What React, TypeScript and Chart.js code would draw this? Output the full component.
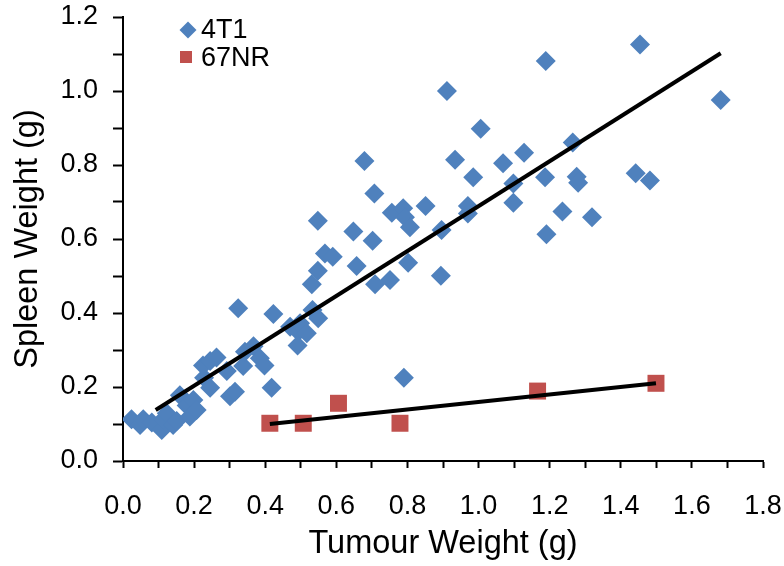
import React, { useEffect, useRef } from "react";
import { Chart, registerables } from "chart.js";

Chart.register(...registerables);

const FONT = "'Liberation Sans', Arial, sans-serif";

const xTicksMin = 0;
const xTicksMax = 1.8;
const yTicksMin = 0;
const yTicksMax = 1.2;

// 4T1 tumour weight (g) and spleen weight (g)
const t4T1X = [
  0.024, 0.048, 0.057, 0.081, 0.109, 0.113, 0.123, 0.141, 0.151, 0.16,
  0.179, 0.188, 0.198, 0.207, 0.228, 0.225, 0.245, 0.263, 0.245, 0.292,
  0.301, 0.315, 0.338, 0.343, 0.367, 0.385, 0.398, 0.418, 0.324, 0.423,
  0.47, 0.493, 0.491, 0.498, 0.517, 0.533, 0.549, 0.531, 0.548, 0.548,
  0.568, 0.59, 0.648, 0.657, 0.679, 0.702, 0.707, 0.709, 0.751, 0.756,
  0.788, 0.793, 0.79, 0.802, 0.807, 0.851, 0.894, 0.896, 0.911, 0.934,
  0.97, 0.97, 0.985, 1.006, 1.069, 1.098, 1.098, 1.128, 1.187, 1.189,
  1.191, 1.236, 1.265, 1.276, 1.28, 1.319, 1.442, 1.454, 1.482, 1.681,
];
const t4T1Y = [
  0.113, 0.097, 0.113, 0.104, 0.084, 0.113, 0.129, 0.097, 0.108, 0.178,
  0.15, 0.12, 0.165, 0.138, 0.225, 0.258, 0.27, 0.28, 0.198, 0.243,
  0.175, 0.187, 0.257, 0.295, 0.31, 0.278, 0.258, 0.198, 0.413, 0.397,
  0.363, 0.349, 0.312, 0.372, 0.345, 0.408, 0.386, 0.478, 0.514, 0.649,
  0.561, 0.552, 0.62, 0.527, 0.811, 0.595, 0.723, 0.478, 0.489, 0.671,
  0.683, 0.659, 0.225, 0.536, 0.632, 0.689, 0.501, 0.624, 1.0, 0.814,
  0.689, 0.669, 0.767, 0.898, 0.805, 0.75, 0.698, 0.833, 0.767, 1.081,
  0.613, 0.674, 0.861, 0.768, 0.752, 0.659, 0.778, 1.126, 0.758, 0.976,
];

// 67NR
const nr67X = [0.413, 0.507, 0.606, 0.779, 1.166, 1.499];
const nr67Y = [0.102, 0.102, 0.156, 0.102, 0.189, 0.21];

// trend line end points
const trend4T1X = [0.092, 1.681];
const trend4T1Y = [0.138, 1.102];
const trend67X = [0.413, 1.499];
const trend67Y = [0.1, 0.21];

const seriesNames = ["4T1", "67NR"];
const xTitle = "Tumour Weight (g)";
const yTitle = "Spleen Weight (g)";

const BLUE = "#4F81BD";
const RED = "#C0504D";

const zip = (xs: number[], ys: number[]) => xs.map((x, i) => ({ x, y: ys[i] }));

const tickFmt = (v: any) => {
  const n = Math.round(Number(v) * 10);
  return n % 2 === 0 ? (n / 10).toFixed(1) : "";
};

const legendPlugin = {
  id: "customLegend",
  afterDraw(chart: any) {
    const ctx = chart.ctx as CanvasRenderingContext2D;
    ctx.save();
    ctx.fillStyle = BLUE;
    ctx.beginPath();
    const dx = 188, dy = 30, r = 8.5;
    ctx.moveTo(dx, dy - r);
    ctx.lineTo(dx + r, dy);
    ctx.lineTo(dx, dy + r);
    ctx.lineTo(dx - r, dy);
    ctx.closePath();
    ctx.fill();
    ctx.fillStyle = RED;
    ctx.fillRect(180, 51, 12, 12);
    ctx.fillStyle = "#000";
    ctx.font = `27px ${FONT}`;
    ctx.textBaseline = "middle";
    ctx.textAlign = "left";
    ctx.fillText(seriesNames[0], 201, 31);
    ctx.fillText(seriesNames[1], 201, 59);
    ctx.restore();
  },
};

export default function App() {
  const ref = useRef<HTMLCanvasElement | null>(null);
  useEffect(() => {
    document.body.style.margin = "0";
    const canvas = ref.current;
    if (!canvas) return;
    const chart = new Chart(canvas, {
      type: "scatter",
      data: {
        datasets: [
          {
            label: "trend4T1",
            data: zip(trend4T1X, trend4T1Y),
            showLine: true,
            borderColor: "#000",
            borderWidth: 4,
            pointRadius: 0,
            order: 0,
          },
          {
            label: "trend67NR",
            data: zip(trend67X, trend67Y),
            showLine: true,
            borderColor: "#000",
            borderWidth: 4,
            pointRadius: 0,
            order: 0,
          },
          {
            label: seriesNames[0],
            data: zip(t4T1X, t4T1Y),
            pointStyle: "rectRot",
            pointRadius: 10,
            backgroundColor: BLUE,
            borderColor: BLUE,
            borderWidth: 0,
            order: 2,
          },
          {
            label: seriesNames[1],
            data: zip(nr67X, nr67Y),
            pointStyle: "rect",
            pointRadius: 12,
            backgroundColor: RED,
            borderColor: RED,
            borderWidth: 0,
            order: 1,
          },
        ],
      },
      options: {
        responsive: false,
        animation: false,
        layout: { padding: 0 },
        plugins: { legend: { display: false }, tooltip: { enabled: false } },
        scales: {
          x: {
            type: "linear",
            min: xTicksMin,
            max: xTicksMax,
            ticks: {
              stepSize: 0.1,
              autoSkip: false,
              maxRotation: 0,
              callback: tickFmt,
              color: "#000",
              padding: 22,
              font: { size: 27, family: FONT },
            },
            grid: {
              drawOnChartArea: false,
              drawTicks: true,
              tickLength: 7,
              tickWidth: 2,
              tickColor: "#000",
            },
            border: { color: "#000", width: 2 },
            title: {
              display: true,
              text: xTitle,
              color: "#000",
              font: { size: 32.5, family: FONT },
              padding: { top: 0, bottom: 2 },
            },
            afterFit: (s: any) => {
              s.height = 566 - 461;
              s.paddingLeft = 0;
              s.paddingRight = 21;
            },
          },
          y: {
            type: "linear",
            min: yTicksMin,
            max: yTicksMax,
            ticks: {
              stepSize: 0.1,
              autoSkip: false,
              callback: tickFmt,
              color: "#000",
              padding: 15,
              font: { size: 27, family: FONT },
            },
            grid: {
              drawOnChartArea: false,
              drawTicks: true,
              tickLength: 10,
              tickWidth: 2,
              tickColor: "#000",
            },
            border: { color: "#000", width: 2 },
            title: {
              display: true,
              text: yTitle,
              color: "#000",
              font: { size: 32.5, family: FONT },
              padding: { top: 9, bottom: 0 },
            },
            afterFit: (s: any) => {
              s.width = 123;
              s.paddingTop = 17;
              s.paddingBottom = 0;
            },
          },
        },
      },
      plugins: [legendPlugin],
    } as any);
    return () => chart.destroy();
  }, []);
  return (
    <canvas
      ref={ref}
      width={784}
      height={566}
      style={{ display: "block", width: 784, height: 566 }}
    />
  );
}
